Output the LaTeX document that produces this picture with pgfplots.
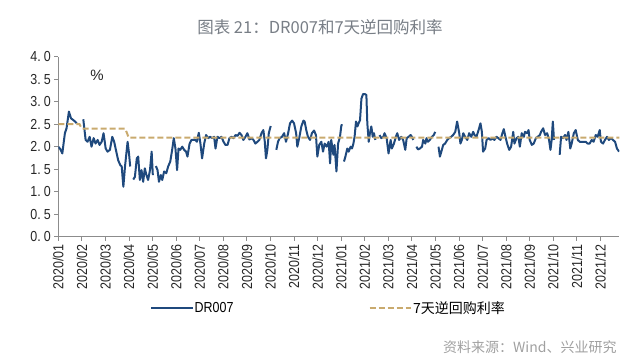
\documentclass[border=0pt]{standalone}
\usepackage{pgfplots}
\pgfplotsset{compat=1.18}
\usepackage{fontspec}
\setmainfont{Liberation Sans}
\newfontfamily\tickfont{Liberation Sans}[FakeStretch=0.86]
\newfontfamily\cjk{Noto Sans CJK SC}
\definecolor{drblue}{RGB}{31,73,125}
\definecolor{repotan}{RGB}{201,170,110}
\definecolor{axisgray}{RGB}{140,140,140}
\definecolor{titlegray}{RGB}{120,126,134}
\definecolor{srcgray}{RGB}{160,160,160}
\newcommand\yl[2]{#1.\kern3bp#2}
\begin{document}
\begin{tikzpicture}
\path[use as bounding box] (-58.3bp,-126.3bp) rectangle (581.7bp,236.7bp);
\begin{axis}[
  at={(0,0)}, anchor=south west,
  scale only axis, width=561bp, height=180bp,
  xmin=0, xmax=23.8, ymin=0, ymax=4,
  axis x line*=bottom, axis y line*=left,
  axis line style={axisgray, line width=0.8bp},
  tick style={axisgray, line width=0.8bp},
  tick align=outside, major tick length=4bp,
  xtick={0,...,23},
  xticklabels={2020/01,2020/02,2020/03,2020/04,2020/05,2020/06,2020/07,2020/08,2020/09,2020/10,2020/11,2020/12,2021/01,2021/02,2021/03,2021/04,2021/05,2021/06,2021/07,2021/08,2021/09,2021/10,2021/11,2021/12},
  x tick label style={rotate=90, anchor=east, font=\tickfont\fontsize{14.5bp}{15bp}\selectfont, text=black!85},
  ytick={0,0.5,1,1.5,2,2.5,3,3.5,4},
  yticklabels={\yl00,\yl05,\yl10,\yl15,\yl20,\yl25,\yl30,\yl35,\yl40},
  y tick label style={font=\tickfont\fontsize{14.5bp}{15bp}\selectfont, text=black!85},
  unbounded coords=jump,
  legend columns=2,
  legend cell align=left,
  legend style={at={(0.158,-0.398)}, anchor=west, draw=none, fill=none,
    font=\fontsize{14.5bp}{15bp}\selectfont,
    nodes={inner xsep=1bp},
    /tikz/every even column/.append style={column sep=134bp}},
  legend image code/.code={\draw[#1] (0bp,0bp) -- (41.6bp,0bp);},
]
\addplot[drblue, line width=2bp, line join=round] coordinates {
(0.00,2.00)(0.08,1.95)(0.17,1.85)(0.28,2.30)(0.35,2.41)(0.45,2.78)(0.54,2.63)(0.64,2.59)(0.71,2.56)(0.78,2.52)(0.9,nan)
(1.06,2.61)(1.16,2.15)(1.24,2.11)(1.33,2.22)(1.41,2.00)(1.50,2.19)(1.58,2.07)(1.67,2.15)(1.75,2.04)(1.84,2.11)(1.92,2.30)(2.01,1.96)(2.09,1.89)(2.19,1.93)(2.29,2.22)(2.37,2.11)(2.46,1.89)(2.54,1.70)(2.63,1.59)(2.69,1.56)(2.76,1.11)(2.83,1.56)(2.94,2.11)(3.00,1.85)(3.05,1.56)(3.1,nan)
(3.18,1.27)(3.25,1.33)(3.33,1.74)(3.39,1.78)(3.46,1.26)(3.53,1.48)(3.60,1.22)(3.67,1.52)(3.74,1.37)(3.81,1.26)(3.89,1.48)(3.96,1.89)(4.01,1.37)(4.07,nan)
(4.14,1.57)(4.21,1.48)(4.27,1.22)(4.35,1.37)(4.41,1.26)(4.49,1.45)(4.58,1.41)(4.66,1.56)(4.75,1.67)(4.83,1.93)(4.90,2.19)(4.97,1.96)(5.04,1.48)(5.10,1.96)(5.17,1.93)(5.26,2.00)(5.34,1.93)(5.42,1.89)(5.48,1.78)(5.57,2.07)(5.65,2.15)(5.74,2.15)(5.79,2.16)(5.88,2.11)(5.96,2.31)(6.03,2.07)(6.10,1.74)(6.19,2.07)(6.27,2.26)(6.36,2.19)(6.44,2.22)(6.53,2.19)(6.61,2.22)(6.67,1.96)(6.75,2.22)(6.84,2.19)(6.92,2.22)(7.01,2.11)(7.09,2.04)(7.18,2.04)(7.26,2.19)(7.35,2.22)(7.43,2.19)(7.52,2.26)(7.60,2.24)(7.69,2.31)(7.77,2.26)(7.85,2.15)(7.94,2.22)(8.02,2.30)(8.11,2.16)(8.19,2.19)(8.28,2.15)(8.36,2.07)(8.45,2.11)(8.53,2.15)(8.62,2.30)(8.70,2.37)(8.76,2.11)(8.81,1.74)(8.87,1.93)(8.93,2.30)(9.01,2.46)(9.1,nan)
(9.25,1.93)(9.32,2.11)(9.39,2.19)(9.49,2.22)(9.58,2.30)(9.66,2.11)(9.75,2.30)(9.83,2.52)(9.92,2.58)(10.00,2.52)(10.09,2.30)(10.14,2.00)(10.23,2.22)(10.31,2.45)(10.40,2.58)(10.45,2.56)(10.52,2.37)(10.59,2.22)(10.68,2.15)(10.76,2.30)(10.85,2.36)(10.93,2.26)(10.99,1.78)(11.07,2.04)(11.16,2.11)(11.23,1.89)(11.30,2.07)(11.39,2.00)(11.47,2.11)(11.53,1.63)(11.58,2.15)(11.67,1.82)(11.72,2.04)(11.80,1.45)(11.87,2.07)(11.95,2.22)(12.01,2.48)(12.06,2.48)(12.09,nan)
(12.12,1.67)(12.18,1.78)(12.26,1.96)(12.32,1.89)(12.40,2.00)(12.46,1.96)(12.52,2.07)(12.57,2.22)(12.63,2.56)(12.69,2.45)(12.74,2.52)(12.80,2.59)(12.86,3.07)(12.93,3.17)(13.00,3.17)(13.07,3.15)(13.11,2.52)(13.17,2.11)(13.22,2.30)(13.28,2.45)(13.34,2.22)(13.39,2.30)(13.45,2.15)(13.5,nan)
(13.63,2.26)(13.70,2.19)(13.79,2.22)(13.84,2.30)(13.93,2.19)(14.01,1.85)(14.10,2.15)(14.15,1.96)(14.24,2.07)(14.32,2.22)(14.38,2.30)(14.46,2.15)(14.55,2.22)(14.63,2.15)(14.72,1.93)(14.78,2.19)(14.86,2.22)(14.95,2.26)(15.00,2.22)(15.06,2.15)(15.12,nan)
(15.19,2.00)(15.26,1.94)(15.34,1.96)(15.43,2.00)(15.48,2.15)(15.57,2.07)(15.62,2.19)(15.68,2.11)(15.76,2.15)(15.85,2.22)(15.93,2.26)(15.99,2.33)(16.05,nan)
(16.13,2.00)(16.19,1.78)(16.25,1.89)(16.33,2.04)(16.41,2.07)(16.50,2.15)(16.58,2.19)(16.67,2.22)(16.75,2.26)(16.84,2.33)(16.92,2.56)(17.01,2.30)(17.06,2.07)(17.12,2.15)(17.18,2.30)(17.26,2.22)(17.35,2.15)(17.43,2.30)(17.52,2.22)(17.60,2.33)(17.66,2.26)(17.74,2.22)(17.83,2.37)(17.91,2.52)(17.97,2.33)(18.02,1.89)(18.11,1.96)(18.17,2.15)(18.25,2.19)(18.34,2.15)(18.42,2.19)(18.50,2.15)(18.59,2.22)(18.67,2.19)(18.76,2.15)(18.84,2.30)(18.90,2.39)(18.97,2.22)(19.04,2.07)(19.13,1.93)(19.21,2.00)(19.30,2.33)(19.35,2.07)(19.44,2.19)(19.52,2.22)(19.58,2.00)(19.66,2.30)(19.75,2.22)(19.80,2.33)(19.89,2.30)(19.95,2.37)(20.00,2.15)(20.09,2.04)(20.17,2.07)(20.26,2.19)(20.34,2.22)(20.43,2.26)(20.48,2.33)(20.57,2.41)(20.65,2.26)(20.74,2.30)(20.82,2.15)(20.88,1.93)(20.93,2.15)(20.98,2.56)(21.03,2.15)(21.1,nan)
(21.27,1.82)(21.33,2.22)(21.41,2.19)(21.50,2.26)(21.56,2.15)(21.64,2.33)(21.72,1.96)(21.78,2.07)(21.87,2.30)(21.95,2.37)(22.04,2.15)(22.12,2.11)(22.20,2.11)(22.29,2.11)(22.37,2.11)(22.46,2.07)(22.54,2.07)(22.63,2.15)(22.71,2.11)(22.80,2.26)(22.88,2.22)(22.97,2.37)(23.02,2.11)(23.11,2.07)(23.19,2.15)(23.28,2.22)(23.36,2.15)(23.45,2.19)(23.53,2.15)(23.62,2.11)(23.70,1.96)(23.79,1.89)
};
\addlegendentry{\tickfont DR007}
\addplot[repotan, line width=2bp, dash pattern=on 6bp off 3bp] coordinates {
(0,2.5)(0.9,2.5)(1.0,2.4)(2.84,2.4)(2.99,2.2)(23.8,2.2)
};
\addlegendentry{\cjk\fontsize{14bp}{15bp}\selectfont 7天逆回购利率}
\node[font=\fontsize{15bp}{16bp}\selectfont, text=black!85] at (axis cs:1.64,3.59) {\%};
\end{axis}
\node[font=\cjk\fontsize{16.5bp}{18bp}\selectfont, text=titlegray] at (261.7bp,209.2bp) {图表 21：DR007和7天逆回购利率};
\node[anchor=east, font=\cjk\fontsize{14bp}{15bp}\selectfont, text=srcgray, inner sep=0pt] at (558.4bp,-110.3bp) {资料来源：Wind、兴业研究};
\end{tikzpicture}
\end{document}
